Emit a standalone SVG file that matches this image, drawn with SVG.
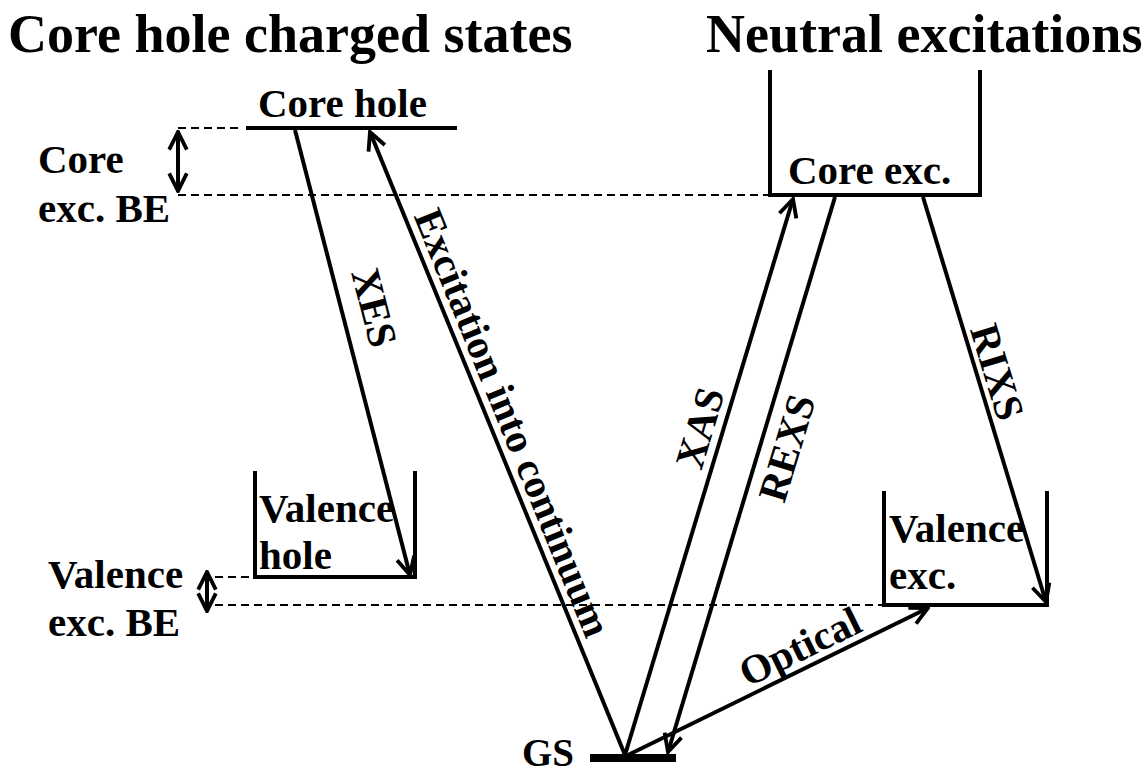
<svg xmlns="http://www.w3.org/2000/svg" width="1148" height="776" viewBox="0 0 1148 776">
<style>
text{font-family:"Liberation Serif","Times New Roman",serif;font-weight:bold;fill:#000}
.t{font-size:54px}
.l{font-size:41px}
.lv{stroke:#000;stroke-width:4;fill:none;stroke-linecap:square}
.d{stroke:#000;stroke-width:2;stroke-dasharray:8,5;fill:none}
.a{stroke:#000;stroke-width:4;fill:none}
</style>
<defs>
<marker id="ah" viewBox="0 0 20 20" refX="18" refY="10" markerWidth="5.5" markerHeight="5.5" orient="auto-start-reverse" markerUnits="strokeWidth">
<path d="M2,2 L18,10 L2,18" fill="none" stroke="#000" stroke-width="3.5"/>
</marker>
</defs>
<rect width="1148" height="776" fill="#fff"/>
<g id="titles">
<text class="t" x="8" y="52">Core hole charged states</text>
<text class="t" x="706" y="52">Neutral excitations</text>
</g>
<g id="core-hole">
<line class="lv" x1="248" y1="128" x2="455" y2="128"/>
<text class="l" x="258" y="117">Core hole</text>
</g>
<g id="core-exc">
<path class="lv" d="M770,72 V195 H980 V72"/>
<text class="l" x="788" y="184">Core exc.</text>
</g>
<g id="valence-hole">
<path class="lv" d="M255,473 V577 H415 V473"/>
<text class="l" x="259" y="522">Valence</text>
<text class="l" x="259" y="569">hole</text>
</g>
<g id="valence-exc">
<path class="lv" d="M884,493 V605 H1047 V493"/>
<text class="l" x="889" y="542">Valence</text>
<text class="l" x="889" y="589">exc.</text>
</g>
<g id="gs">
<rect x="590" y="754" width="86" height="8" fill="#000"/>
<text x="574" y="766" text-anchor="end" style="font-size:39px">GS</text>
</g>
<g id="core-be">
<text class="l" x="38" y="173">Core</text>
<text class="l" x="38" y="222">exc. BE</text>
</g>
<g id="valence-be">
<text class="l" x="48" y="588">Valence</text>
<text class="l" x="48" y="636">exc. BE</text>
</g>
<g id="connectors">
<line class="d" x1="178" y1="128" x2="238" y2="128"/>
<line class="d" x1="178" y1="195" x2="768" y2="195"/>
<line class="d" x1="215" y1="577" x2="253" y2="577"/>
<line class="d" x1="215" y1="605" x2="882" y2="605"/>
<line class="a" x1="178" y1="132" x2="178" y2="191" marker-start="url(#ah)" marker-end="url(#ah)"/>
<line class="a" x1="207" y1="572" x2="207" y2="611" marker-start="url(#ah)" marker-end="url(#ah)"/>
<line class="a" x1="295" y1="130" x2="410" y2="575" marker-end="url(#ah)"/>
<line class="a" x1="625" y1="755" x2="370" y2="132" marker-end="url(#ah)"/>
<line class="a" x1="625" y1="755" x2="793" y2="199" marker-end="url(#ah)"/>
<line class="a" x1="835" y1="197" x2="668" y2="752" marker-end="url(#ah)"/>
<line class="a" x1="923" y1="197" x2="1046" y2="602" marker-end="url(#ah)"/>
<line class="a" x1="628" y1="755" x2="928" y2="608" marker-end="url(#ah)"/>
<text class="l" text-anchor="middle" transform="translate(361,311) rotate(75.6)">XES</text>
<text class="l" text-anchor="middle" transform="translate(500,428) rotate(67.8)">Excitation into continuum</text>
<text class="l" text-anchor="middle" transform="translate(713,432) rotate(-73.2)">XAS</text>
<text class="l" text-anchor="middle" transform="translate(800,452) rotate(-73.2)">REXS</text>
<text class="l" text-anchor="middle" transform="translate(984,376) rotate(73)">RIXS</text>
<text class="l" text-anchor="middle" transform="translate(806,659) rotate(-26)">Optical</text>
</g>
</svg>
